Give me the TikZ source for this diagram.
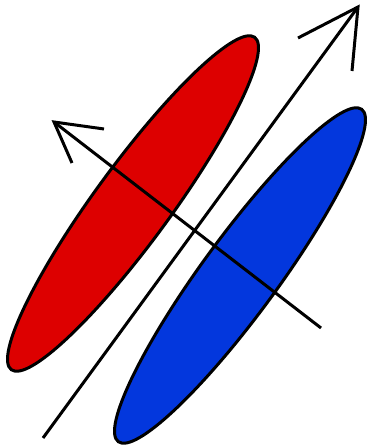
\documentclass[tikz,border=0pt]{standalone}
\usetikzlibrary{shapes.geometric}
\definecolor{lobered}{RGB}{221,0,0}
\definecolor{lobeblue}{RGB}{3,55,221}
\begin{document}
\begin{tikzpicture}[x=1pt,y=1pt,
  lobe/.style={ellipse,draw=black,line width=3pt,inner sep=0pt,
    minimum width=412pt,minimum height=76pt,rotate=53.8},
  axisline/.style={draw=black,line width=3pt}]
\useasboundingbox (0,0) rectangle (366,446);
\node[lobe,fill=lobered] (red) at (133,242.5) {};
\node[lobe,fill=lobeblue] (blue) at (240,170.5) {};
% long arrow
\coordinate (la0) at (43,8);
\coordinate (la1) at (358,439);
\coordinate (lah1) at (298,408);
\coordinate (lah2) at (352,375);
\draw[axisline] (la0) -- (la1);
\draw[axisline] (lah1) -- (la1) -- (lah2);
% cross arrow
\coordinate (ca0) at (321,118);
\coordinate (ca1) at (54,324);
\coordinate (cah1) at (104,317);
\coordinate (cah2) at (72,283);
\draw[axisline] (ca0) -- (ca1);
\draw[axisline] (cah1) -- (ca1) -- (cah2);
\end{tikzpicture}
\end{document}
